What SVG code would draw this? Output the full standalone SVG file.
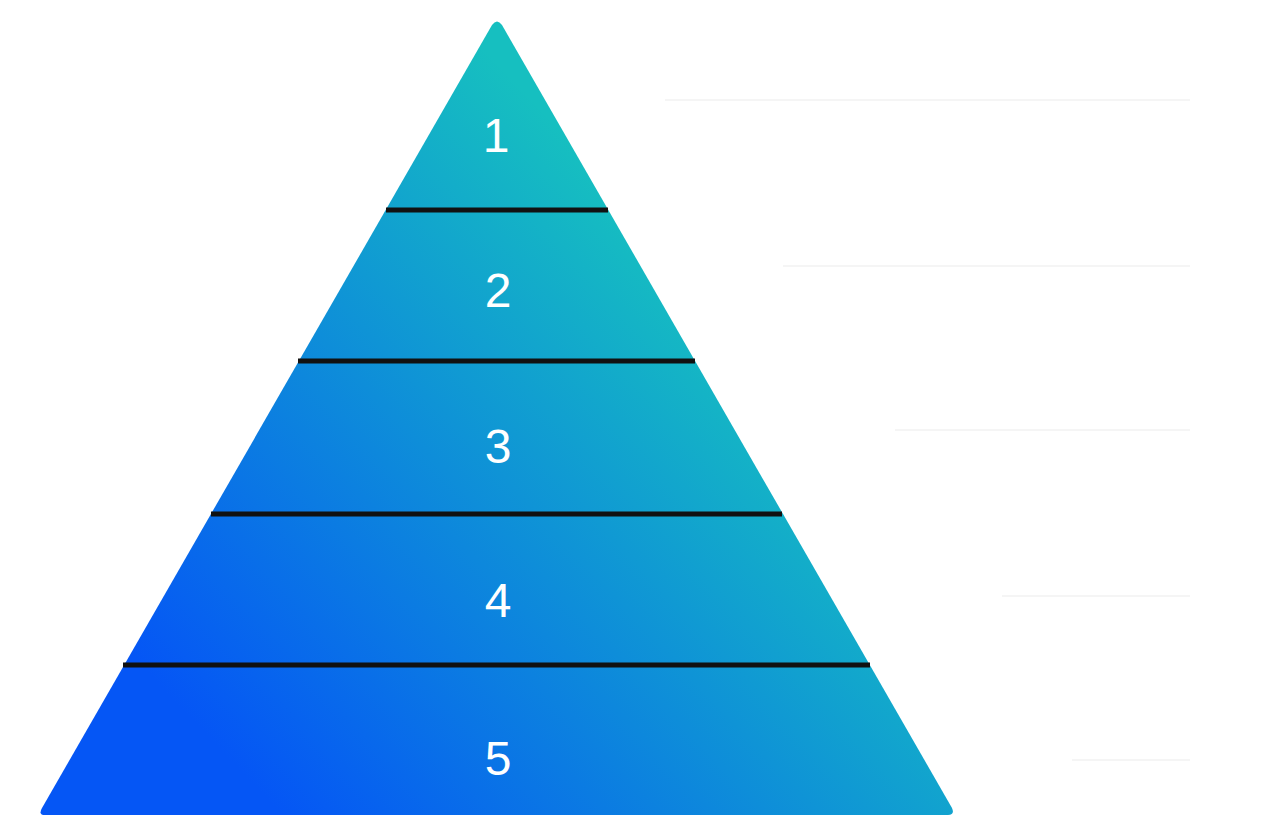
<svg xmlns="http://www.w3.org/2000/svg" width="1272" height="840" viewBox="0 0 1272 840">
<defs>
<linearGradient id="g" gradientUnits="userSpaceOnUse" x1="230" y1="760" x2="720" y2="300">
<stop offset="0" stop-color="#0556f5"/><stop offset="1" stop-color="#16bfc0"/>
</linearGradient>
<style>
.n{font-family:"Liberation Sans",Arial,sans-serif;font-size:48px;fill:#fff;text-anchor:middle}
.sep{stroke:#111;stroke-width:5}
.faint{stroke:#f2f2f2;stroke-width:1.5}
</style>
</defs>
<rect width="1272" height="840" fill="#fff"/>
<g id="pyramid">
<path d="M492,25 Q497,18 502,25 L952,808 Q955,815 948,815 L45,815 Q38,815 42,808 Z" fill="url(#g)"/>
</g>
<g id="connectors">
<line class="sep" x1="386" y1="210" x2="608" y2="210"/>
<line class="sep" x1="298" y1="361" x2="695" y2="361"/>
<line class="sep" x1="211" y1="514" x2="782" y2="514"/>
<line class="sep" x1="123" y1="665" x2="870" y2="665"/>
<line class="faint" x1="665" y1="100" x2="1190" y2="100"/>
<line class="faint" x1="783" y1="266" x2="1190" y2="266"/>
<line class="faint" x1="895" y1="430" x2="1190" y2="430"/>
<line class="faint" x1="1002" y1="596" x2="1190" y2="596"/>
<line class="faint" x1="1072" y1="760" x2="1190" y2="760"/>
</g>
<g id="n1"><text class="n" x="496" y="152">1</text></g>
<g id="n2"><text class="n" x="498" y="307">2</text></g>
<g id="n3"><text class="n" x="498" y="463">3</text></g>
<g id="n4"><text class="n" x="498" y="617">4</text></g>
<g id="n5"><text class="n" x="498" y="775">5</text></g>
</svg>
